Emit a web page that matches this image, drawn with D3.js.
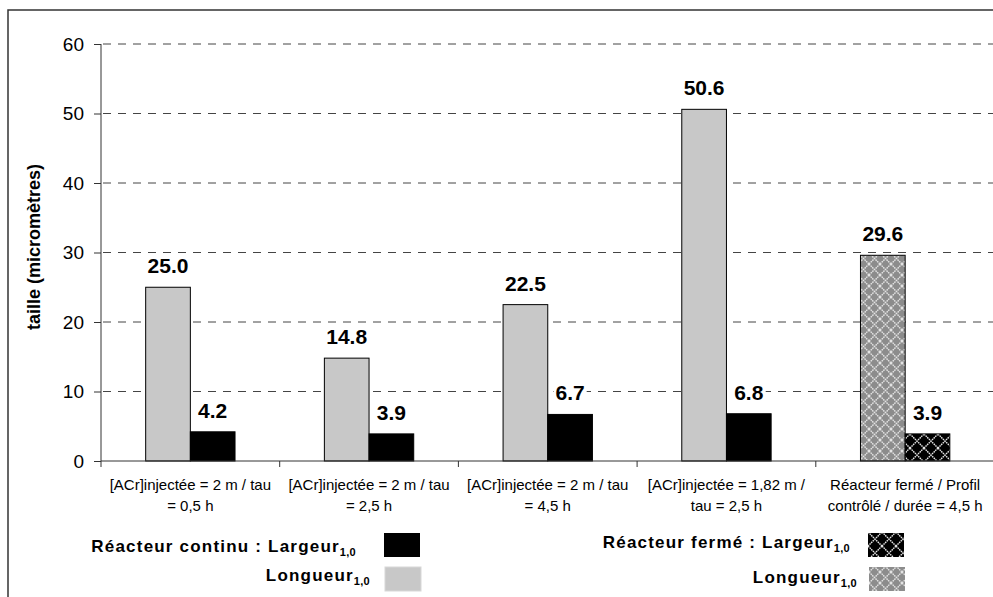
<!DOCTYPE html>
<html><head><meta charset="utf-8">
<script src="https://cdn.jsdelivr.net/npm/d3@7"></script>
<style>body{margin:0;background:#fff}svg{display:block;font-family:"Liberation Sans",Arial,sans-serif}</style>
</head><body>
<svg id="c" width="993" height="597"></svg>
<script>
const categories = [
  ["[ACr]injectée = 2 m / tau", "= 0,5 h"],
  ["[ACr]injectée = 2 m / tau", "= 2,5 h"],
  ["[ACr]injectée = 2 m / tau", "= 4,5 h"],
  ["[ACr]injectée = 1,82 m /", "tau = 2,5 h"],
  ["Réacteur fermé / Profil", "contrôlé / durée = 4,5 h"]
];
const longueur = [25.0, 14.8, 22.5, 50.6, 29.6];
const largeur = [4.2, 3.9, 6.7, 6.8, 3.9];
const reactor = ["continu", "continu", "continu", "continu", "fermé"];
const yTicks = [0, 10, 20, 30, 40, 50, 60];
const seriesNames = ["Longueur", "Largeur"];

const svg = d3.select("#c");
const defs = svg.append("defs");
function makePattern(id, bg, s) {
  const p = defs.append("pattern").attr("id", id).attr("patternUnits", "userSpaceOnUse")
    .attr("width", s).attr("height", s);
  p.append("rect").attr("width", s).attr("height", s).attr("fill", bg);
  p.append("path").attr("d", `M0,0L${s},${s}M${s},0L0,${s}`).attr("stroke", "#e4e4e4")
    .attr("stroke-width", 1.4).attr("stroke-dasharray", "1.6,0.7");
}
makePattern("hatchGray", "#8c8c8c", 11);
makePattern("hatchBlack", "#000", 14);

// outer frame
svg.append("rect").attr("x", 8).attr("y", 10).attr("width", 1000).attr("height", 600)
  .attr("fill", "none").attr("stroke", "#333").attr("stroke-width", 1.5);

const x0 = 101, yTop = 44, yBot = 461, step = 178.7;
const idx = d3.range(categories.length);
const x = d3.scaleBand().domain(idx).range([x0, x0 + step * categories.length]).padding(0);
const x1 = d3.scaleBand().domain(seriesNames).range([0, x.bandwidth()]).paddingInner(0).paddingOuter(1);
const y = d3.scaleLinear().domain([0, 60]).range([yBot, yTop]);

// grid
svg.append("g").selectAll("line").data(yTicks.filter(t => t > 0)).join("line")
  .attr("x1", x0 + 2).attr("x2", 993).attr("y1", d => y(d)).attr("y2", d => y(d))
  .attr("stroke", "#444").attr("stroke-width", 1).attr("stroke-dasharray", "8,7");

// y axis
const yAxis = svg.append("g").attr("transform", `translate(${x0},0)`)
  .call(d3.axisLeft(y).tickValues(yTicks).tickSize(7).tickPadding(10).tickFormat(d3.format("d")));
yAxis.select(".domain").attr("stroke", "#333").attr("d", `M0,${yTop}V${yBot}`);
yAxis.selectAll(".tick line").attr("stroke", "#333");
yAxis.selectAll("text").attr("font-size", 19).attr("fill", "#000").attr("font-family", "Liberation Sans, Arial, sans-serif");

// bars
const fillFor = (s, i) => {
  if (reactor[i] === "fermé") return s === "Longueur" ? "url(#hatchGray)" : "url(#hatchBlack)";
  return s === "Longueur" ? "#c8c8c8" : "#000";
};
const barData = [];
idx.forEach(i => {
  barData.push({i, s: "Longueur", v: longueur[i]});
  barData.push({i, s: "Largeur", v: largeur[i]});
});
svg.append("g").selectAll("rect").data(barData).join("rect")
  .attr("x", d => x(d.i) + x1(d.s))
  .attr("y", d => y(d.v))
  .attr("width", x1.bandwidth())
  .attr("height", d => y(0) - y(d.v))
  .attr("fill", d => fillFor(d.s, d.i))
  .attr("stroke", "#000").attr("stroke-width", 1);

// x axis
const xAxisG = svg.append("g");
xAxisG.append("line").attr("x1", x0).attr("x2", 993).attr("y1", yBot).attr("y2", yBot).attr("stroke", "#333");
xAxisG.selectAll("line.tk").data(idx).join("line").attr("class", "tk")
  .attr("x1", d => x(d)).attr("x2", d => x(d)).attr("y1", yBot).attr("y2", yBot + 6).attr("stroke", "#333");
const catText = xAxisG.selectAll("text").data(idx).join("text")
  .attr("text-anchor", "middle").attr("font-size", 15).attr("fill", "#000");
catText.each(function(i) {
  const t = d3.select(this);
  categories[i].forEach((line, k) => {
    t.append("tspan").attr("x", x(i) + x.bandwidth() / 2).attr("y", 490 + k * 21).text(line);
  });
});

// value labels
const lab = svg.append("g").selectAll("g").data(barData).join("g");
lab.append("text")
  .attr("x", d => x(d.i) + x1(d.s) + x1.bandwidth() / 2)
  .attr("y", d => y(d.v) - 14)
  .attr("text-anchor", "middle").attr("font-size", 21).attr("font-weight", "bold").attr("fill", "#000")
  .text(d => d.v.toFixed(1));
lab.each(function() {
  const g = d3.select(this), t = g.select("text"), b = t.node().getBBox();
  g.insert("rect", "text").attr("x", b.x - 2).attr("y", b.y + 2).attr("width", b.width + 4).attr("height", b.height - 4).attr("fill", "#fff");
});

// y title
svg.append("text").attr("transform", "translate(40,247) rotate(-90)")
  .attr("text-anchor", "middle").attr("font-size", 18).attr("font-weight", "bold").text("taille (micromètres)");

// legend
const legend = [
  {label: "Réacteur continu : Largeur", endX: 356, base: 552, fill: "#000", bx: 384, by: 533},
  {label: "Longueur", endX: 370, base: 581, fill: "#c8c8c8", bx: 385, by: 567},
  {label: "Réacteur fermé : Largeur", endX: 850, base: 548, fill: "url(#hatchBlack)", bx: 868, by: 533},
  {label: "Longueur", endX: 857, base: 583, fill: "url(#hatchGray)", bx: 869, by: 567}
];
const lg = svg.append("g").selectAll("g").data(legend).join("g");
const lt = lg.append("text").attr("x", d => d.endX).attr("y", d => d.base)
  .attr("text-anchor", "end").attr("font-weight", "bold").attr("font-size", 17).attr("letter-spacing", 1.2);
lt.append("tspan").text(d => d.label);
lt.append("tspan").attr("font-size", 11).attr("dy", 4).attr("letter-spacing", 0.3).text("1,0");
lg.append("rect").attr("x", d => d.bx).attr("y", d => d.by).attr("width", 36).attr("height", 24)
  .attr("fill", d => d.fill).attr("stroke", d => d.fill === "#c8c8c8" ? "#d8d8d8" : "none");
</script>
</body></html>
